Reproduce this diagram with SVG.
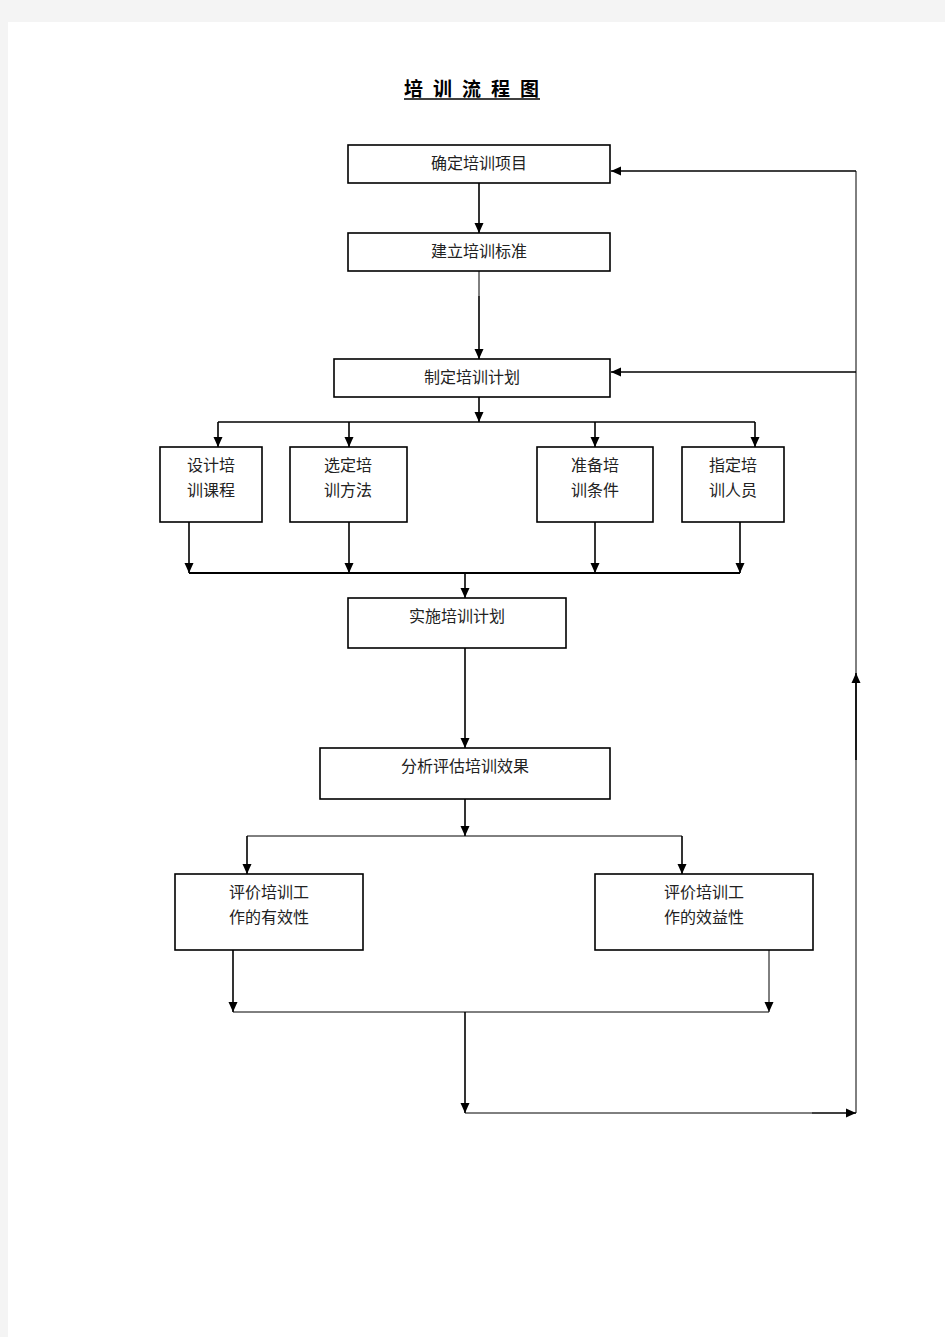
<svg xmlns="http://www.w3.org/2000/svg" width="945" height="1337" viewBox="0 0 945 1337">
<defs>
<marker id="ah" markerWidth="11" markerHeight="11" refX="10" refY="5.5" orient="auto" markerUnits="userSpaceOnUse"><path d="M0,1 L10,5.5 L0,10 Z" fill="#000"/></marker>
<style>
.box{fill:#fff;stroke:#000;stroke-width:1.6}
.t{font-family:"Liberation Serif","Noto Sans CJK SC",serif;font-size:16px;fill:#222;text-anchor:middle}
.c{fill:none;stroke:#000;stroke-width:1.6}
.thin{fill:none;stroke:#000;stroke-width:1}
.ar{marker-end:url(#ah)}
</style>
</defs>
<rect x="0" y="0" width="945" height="1337" fill="#f4f4f4"/>
<rect x="8" y="22" width="937" height="1315" fill="#fff"/>
<text x="404" y="96" style="font-family:'Noto Sans CJK SC',sans-serif;font-size:19px;font-weight:bold;letter-spacing:10px">培训流程图</text>
<line x1="404" y1="99" x2="540" y2="99" stroke="#000" stroke-width="1.5"/>

<g id="connectors">
<path class="c ar" d="M479,183 V233"/>
<path class="thin" d="M479,271 V296"/>
<path class="c ar" d="M479,296 V359"/>
<path class="thin" d="M856,171 V1113"/>
<path class="c ar" d="M856,171 H611"/>
<path class="c ar" d="M856,372 H611"/>
<path class="c ar" d="M856,760 V673"/>
<path class="c ar" d="M479,397 V422"/>
<path class="c" d="M218,422 H755"/>
<path class="c ar" d="M218,422 V447"/>
<path class="c ar" d="M349,422 V447"/>
<path class="c ar" d="M595,422 V447"/>
<path class="c ar" d="M755,422 V447"/>
<path class="c ar" d="M189,522 V573"/>
<path class="c ar" d="M349,522 V573"/>
<path class="c ar" d="M595,522 V573"/>
<path class="c ar" d="M740,522 V573"/>
<path class="c" d="M189,573 H740" style="stroke-width:2"/>
<path class="c ar" d="M465,573 V598"/>
<path class="c ar" d="M465,648 V748"/>
<path class="c ar" d="M465,799 V836"/>
<path class="thin" d="M247,836 H682"/>
<path class="c ar" d="M247,836 V874"/>
<path class="c ar" d="M682,836 V874"/>
<path class="c ar" d="M233,950 V1012"/>
<path class="thin ar" d="M769,950 V1012"/>
<path class="thin" d="M233,1012 H769"/>
<path class="c ar" d="M465,1012 V1113"/>
<path class="thin" d="M465,1113 H812"/>
<path class="c ar" d="M812,1113 H856"/>
</g>

<g id="n1"><rect class="box" x="348" y="145" width="262" height="38"/><text class="t" x="479" y="169">确定培训项目</text></g>
<g id="n2"><rect class="box" x="348" y="233" width="262" height="38"/><text class="t" x="479" y="257">建立培训标准</text></g>
<g id="n3"><rect class="box" x="334" y="359" width="276" height="38"/><text class="t" x="472" y="383">制定培训计划</text></g>
<g id="n4"><rect class="box" x="160" y="447" width="102" height="75"/><text class="t" x="211" y="471">设计培</text><text class="t" x="211" y="496">训课程</text></g>
<g id="n5"><rect class="box" x="290" y="447" width="117" height="75"/><text class="t" x="348" y="471">选定培</text><text class="t" x="348" y="496">训方法</text></g>
<g id="n6"><rect class="box" x="537" y="447" width="116" height="75"/><text class="t" x="595" y="471">准备培</text><text class="t" x="595" y="496">训条件</text></g>
<g id="n7"><rect class="box" x="682" y="447" width="102" height="75"/><text class="t" x="733" y="471">指定培</text><text class="t" x="733" y="496">训人员</text></g>
<g id="n8"><rect class="box" x="348" y="598" width="218" height="50"/><text class="t" x="457" y="622">实施培训计划</text></g>
<g id="n9"><rect class="box" x="320" y="748" width="290" height="51"/><text class="t" x="465" y="772">分析评估培训效果</text></g>
<g id="n10"><rect class="box" x="175" y="874" width="188" height="76"/><text class="t" x="269" y="898">评价培训工</text><text class="t" x="269" y="923">作的有效性</text></g>
<g id="n11"><rect class="box" x="595" y="874" width="218" height="76"/><text class="t" x="704" y="898">评价培训工</text><text class="t" x="704" y="923">作的效益性</text></g>
</svg>
